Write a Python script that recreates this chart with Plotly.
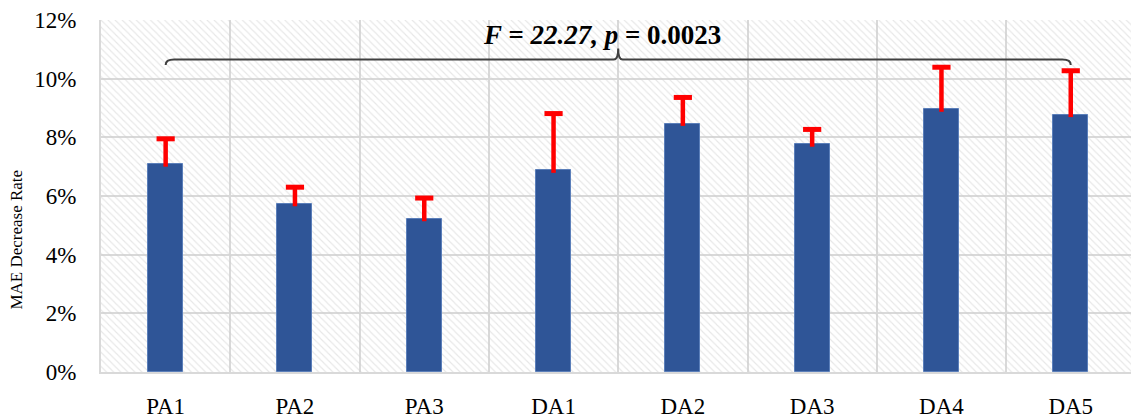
import plotly.graph_objects as go

# MAE decrease rate per configuration (percent) and upper error (percent)
categories = ["PA1", "PA2", "PA3", "DA1", "DA2", "DA3", "DA4", "DA5"]
mae_decrease = [7.08, 5.73, 5.22, 6.87, 8.47, 7.76, 8.95, 8.77]
error_upper = [0.87, 0.57, 0.71, 1.94, 0.89, 0.51, 1.44, 1.50]
y_ticks = [0, 2, 4, 6, 8, 10, 12]
stat_label = "<b><i>F = 22.27, p</i> = 0.0023</b>"

FONT = "Liberation Serif"
GRID = "#d9d9d9"
BAR = "#2f5597"
RED = "#ff0000"

xs = list(range(len(categories)))
n = len(categories)

fig = go.Figure()

# hatched chart-area fill (transparent ground so gridlines show through)
fig.add_trace(go.Bar(
    x=[(n - 1) / 2], y=[max(y_ticks)], width=[n + 1],
    marker=dict(color="rgba(0,0,0,0)", line=dict(width=0),
                pattern=dict(shape="\\", fgcolor="#cfcfcf", size=5,
                             solidity=0.22, fillmode="overlay")),
    hoverinfo="skip", showlegend=False,
))

# main bars
fig.add_trace(go.Bar(
    x=xs, y=mae_decrease, width=0.27,
    marker=dict(color=BAR, line=dict(color="#5b7fba", width=1)),
    showlegend=False,
))

# upward error stems
stem_x, stem_y = [], []
for x, v, e in zip(xs, mae_decrease, error_upper):
    stem_x += [x, x, None]
    stem_y += [v - 0.08, v + e, None]
fig.add_trace(go.Scatter(
    x=stem_x, y=stem_y, mode="lines",
    line=dict(color=RED, width=4.5), hoverinfo="skip", showlegend=False,
))
# error caps
fig.add_trace(go.Scatter(
    x=xs, y=[v + e for v, e in zip(mae_decrease, error_upper)],
    mode="markers",
    marker=dict(symbol="line-ew", size=13, color=RED,
                line=dict(color=RED, width=5)),
    hoverinfo="skip", showlegend=False,
))

# curly brace spanning all groups
x0, x1 = xs[0], xs[-1]
xm = (x0 + x1) / 2
yb, yend, ytip = 10.65, 10.47, 11.03
r = 0.065
brace = (
    f"M {x0},{yend} Q {x0},{yb} {x0 + r},{yb} "
    f"L {xm - 0.035},{yb} Q {xm},{yb} {xm},{ytip} "
    f"Q {xm},{yb} {xm + 0.035},{yb} "
    f"L {x1 - r},{yb} Q {x1},{yb} {x1},{yend}"
)
fig.add_shape(type="path", path=brace, xref="x", yref="y",
              line=dict(color="#404040", width=2))

fig.add_annotation(
    text=stat_label, xref="paper", yref="paper", x=0.486, y=0.958,
    showarrow=False, font=dict(family=FONT, size=27, color="#000000"),
    xanchor="center", yanchor="middle",
)

# y-axis title
fig.add_annotation(
    text="MAE Decrease Rate", xref="paper", yref="paper", x=-0.0816, y=0.376,
    textangle=-90, showarrow=False,
    font=dict(family=FONT, size=17, color="#000000"),
    xanchor="center", yanchor="middle",
)

fig.update_layout(
    width=1131, height=419,
    margin=dict(l=101, r=0, t=20, b=43),
    paper_bgcolor="white", plot_bgcolor="white",
    barmode="overlay", bargap=0,
    font=dict(family=FONT, color="#000000"),
)

fig.update_xaxes(
    range=[-0.5, -0.5 + 1030 / 129.3],
    tickmode="array", tickvals=xs, ticktext=categories,
    tickfont=dict(family=FONT, size=23, color="#000000"),
    showgrid=False, zeroline=False,
    showline=True, linecolor=GRID, linewidth=2,
    ticks="", ticklabelstandoff=12,
    minor=dict(tickmode="linear", tick0=0.5, dtick=1, showgrid=True,
               gridcolor=GRID, gridwidth=2, ticks=""),
)
fig.update_yaxes(
    range=[0, 12], tickmode="array", tickvals=y_ticks,
    ticktext=[f"{t}%" for t in y_ticks],
    tickfont=dict(family=FONT, size=23, color="#000000"),
    showgrid=True, gridcolor=GRID, gridwidth=2, zeroline=False,
    showline=True, linecolor=GRID, linewidth=2,
    ticks="", ticklabelstandoff=18,
)

fig.write_html("out.html")
